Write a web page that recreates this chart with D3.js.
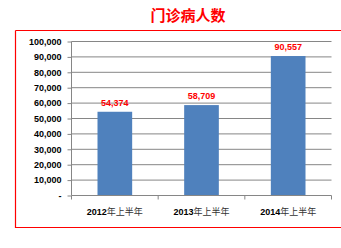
<!DOCTYPE html>
<html><head><meta charset="utf-8">
<script src="https://cdn.jsdelivr.net/npm/d3@7"></script>
<style>body{margin:0;background:#fff;}svg{display:block;}</style>
</head><body>
<script>
const categories = ["2012年上半年","2013年上半年","2014年上半年"];
const values = [54374, 58709, 90557];
const yTicks = [0,10000,20000,30000,40000,50000,60000,70000,80000,90000,100000];
const title = "门诊病人数";

const W=341,H=248;
const svg=d3.select("body").append("svg").attr("width",W).attr("height",H);
const font="Arial, 'Liberation Sans', 'Noto Sans CJK SC', sans-serif";

// outer red frame
svg.append("path").attr("d","M15.5,30.5 H341 M15.5,30.5 V227.5 H341")
  .attr("fill","none").attr("stroke","#ff0000").attr("stroke-width",1.2);

svg.append("text").attr("x",188).attr("y",21).attr("text-anchor","middle")
  .attr("font-family","'Noto Sans CJK SC', sans-serif").attr("font-size",15).attr("font-weight","bold")
  .attr("fill","#ff0000").text(title);

const x=d3.scaleBand().domain(categories).range([71.5,331.5]).paddingInner(0.6).paddingOuter(0.3);
const y=d3.scaleLinear().domain([0,100000]).range([195.5,41.5]);

// gridlines
svg.append("g").selectAll("line").data(yTicks.filter(d=>d>0)).join("line")
  .attr("x1",71.5).attr("x2",331.5).attr("y1",d=>y(d)).attr("y2",d=>y(d))
  .attr("stroke","#868686").attr("stroke-width",1);

// bars
svg.append("g").selectAll("rect").data(values).join("rect")
  .attr("x",(d,i)=>x(categories[i])).attr("width",x.bandwidth())
  .attr("y",d=>y(d)).attr("height",d=>y(0)-y(d)).attr("fill","#4f81bd");

// y axis
const yAxis=d3.axisLeft(y).tickValues(yTicks).tickSize(4).tickPadding(6)
  .tickFormat(d=>d===0?"-":d3.format(",")(d));
const gy=svg.append("g").attr("transform","translate(71.5,0)").call(yAxis);
gy.select(".domain").attr("stroke","#868686").attr("d","M0,41.5V195.5");
gy.selectAll(".tick line").attr("stroke","#868686");
gy.selectAll("text").attr("font-family",font).attr("font-size",9).attr("font-weight","bold").attr("fill","#000");

// x axis
const gx=svg.append("g").attr("transform","translate(0,195.5)");
gx.append("line").attr("x1",71.5).attr("x2",331.5).attr("stroke","#868686");
const bounds=[0,1,2,3].map(i=>71.5+i*(260/3));
gx.selectAll("line.t").data(bounds).join("line").attr("class","t")
  .attr("x1",d=>d).attr("x2",d=>d).attr("y1",0).attr("y2",4).attr("stroke","#868686");
const xl=gx.selectAll("text").data(categories).join("text")
  .attr("x",(d,i)=>71.5+(i+0.5)*(260/3)).attr("y",19).attr("text-anchor","middle")
  .attr("font-family",font).attr("font-size",9).attr("fill","#000");
xl.append("tspan").attr("font-weight","bold").text(d=>d.slice(0,4));
xl.append("tspan").attr("fill","#333").text(d=>d.slice(4));

// data labels
svg.append("g").selectAll("text").data(values).join("text")
  .attr("x",(d,i)=>x(categories[i])+x.bandwidth()/2).attr("y",d=>y(d)-6)
  .attr("text-anchor","middle").attr("font-family",font).attr("font-size",9).attr("font-weight","bold")
  .attr("fill","#ff0000").text(d=>d3.format(",")(d));
</script>
</body></html>
